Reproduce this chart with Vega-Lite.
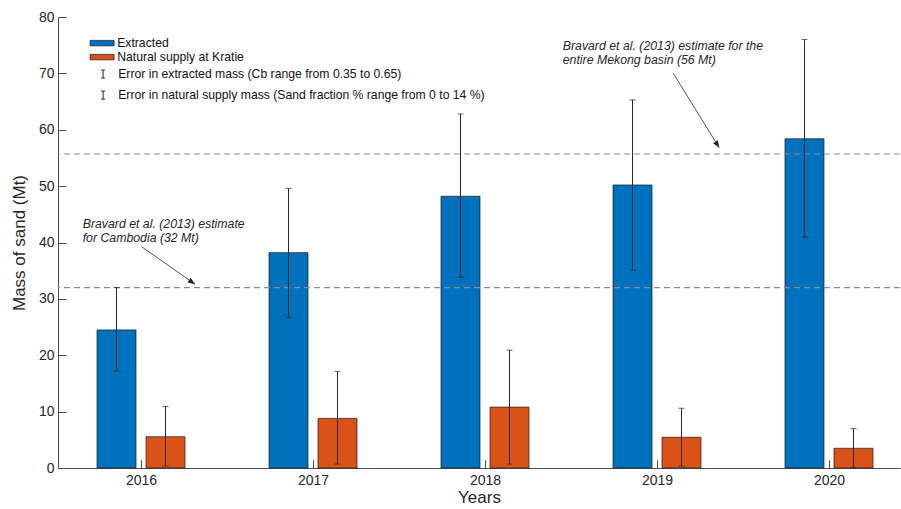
{
  "$schema": "https://vega.github.io/schema/vega-lite/v6.json",
  "width": 842,
  "height": 451,
  "autosize": "none",
  "padding": {"left": 58, "top": 17, "right": 1, "bottom": 41},
  "background": "white",
  "config": {
    "font": "Liberation Sans",
    "view": {"stroke": null},
    "scale": {"continuousPadding": 0},
    "axis": {
      "grid": false,
      "domainColor": "#4d4d4d",
      "tickColor": "#4d4d4d",
      "labelColor": "#262626",
      "titleColor": "#262626",
      "labelFontSize": 14,
      "titleFontSize": 17,
      "titleFontWeight": "normal",
      "tickSize": -8
    },
    "legend": {"labelFontSize": 12.2, "labelColor": "#111111", "labelLimit": 600, "padding": 0}
  },
  "datasets": {
    "mass": [
      {"year": 2016, "series": "Extracted", "error": "Error in extracted mass (Cb range from 0.35 to 0.65)", "mass": 24.5, "lo": 17.2, "hi": 32.0},
      {"year": 2017, "series": "Extracted", "error": "Error in extracted mass (Cb range from 0.35 to 0.65)", "mass": 38.2, "lo": 26.7, "hi": 49.6},
      {"year": 2018, "series": "Extracted", "error": "Error in extracted mass (Cb range from 0.35 to 0.65)", "mass": 48.2, "lo": 33.8, "hi": 62.8},
      {"year": 2019, "series": "Extracted", "error": "Error in extracted mass (Cb range from 0.35 to 0.65)", "mass": 50.2, "lo": 35.1, "hi": 65.3},
      {"year": 2020, "series": "Extracted", "error": "Error in extracted mass (Cb range from 0.35 to 0.65)", "mass": 58.4, "lo": 40.9, "hi": 76.0},
      {"year": 2016, "series": "Natural supply at Kratie", "error": "Error in natural supply mass (Sand fraction % range from 0 to 14 %)", "mass": 5.55, "lo": 0.35, "hi": 10.9},
      {"year": 2017, "series": "Natural supply at Kratie", "error": "Error in natural supply mass (Sand fraction % range from 0 to 14 %)", "mass": 8.8, "lo": 0.7, "hi": 17.1},
      {"year": 2018, "series": "Natural supply at Kratie", "error": "Error in natural supply mass (Sand fraction % range from 0 to 14 %)", "mass": 10.8, "lo": 0.7, "hi": 20.9},
      {"year": 2019, "series": "Natural supply at Kratie", "error": "Error in natural supply mass (Sand fraction % range from 0 to 14 %)", "mass": 5.45, "lo": 0.35, "hi": 10.6},
      {"year": 2020, "series": "Natural supply at Kratie", "error": "Error in natural supply mass (Sand fraction % range from 0 to 14 %)", "mass": 3.5, "lo": 0.1, "hi": 7.0}
    ],
    "estimates": [
      {"region": "Cambodia", "estimate": 32, "note": ["Bravard et al. (2013) estimate", "for Cambodia (32 Mt)"], "noteYear": 2015.661, "noteMass": 44.35, "fromYear": 2016.004, "fromMass": 39.25, "toYear": 2016.314, "toMass": 32.6},
      {"region": "Mekong basin", "estimate": 55.7, "note": ["Bravard et al. (2013) estimate for the", "entire Mekong basin (56 Mt)"], "noteYear": 2018.452, "noteMass": 75.95, "fromYear": 2019.095, "fromMass": 70.0, "toYear": 2019.362, "toMass": 56.8}
    ]
  },
  "encoding": {
    "x": {
      "field": "year", "type": "quantitative",
      "scale": {"domain": [2015.5174, 2020.4128], "nice": false, "zero": false, "padding": 0},
      "axis": {"values": [2016, 2017, 2018, 2019, 2020], "format": "d", "title": "Years", "labelPadding": 13, "titlePadding": 2}
    },
    "y": {
      "field": "mass", "type": "quantitative",
      "scale": {"domain": [0, 80], "nice": false, "padding": 0},
      "axis": {"values": [0, 10, 20, 30, 40, 50, 60, 70, 80], "title": "Mass of sand (Mt)", "labelPadding": 12, "titlePadding": 10}
    }
  },
  "layer": [
    {
      "data": {"name": "mass"},
      "transform": [{"filter": "datum.series == 'Extracted'"}],
      "mark": {"type": "bar", "orient": "vertical", "width": 39, "xOffset": -24.5, "stroke": "#1a1a1a", "strokeWidth": 0.7},
      "encoding": {
        "fill": {
          "field": "series", "type": "nominal",
          "scale": {"domain": ["Extracted", "Natural supply at Kratie"], "range": ["#0072BD", "#D95319"]},
          "legend": {
            "title": null, "orient": "none", "legendX": 38, "legendY": 20,
            "symbolType": "M-2.4,-0.55H2.4V0.55H-2.4Z", "symbolSize": 100,
            "symbolStrokeColor": "#1a1a1a", "symbolStrokeWidth": 0.7,
            "labelOffset": 9, "rowPadding": 1
          }
        }
      }
    },
    {
      "data": {"name": "mass"},
      "transform": [{"filter": "datum.series != 'Extracted'"}],
      "mark": {"type": "bar", "orient": "vertical", "width": 39, "xOffset": 24.5, "stroke": "#1a1a1a", "strokeWidth": 0.7},
      "encoding": {
        "fill": {"field": "series", "type": "nominal"}
      }
    },
    {
      "data": {"name": "estimates"},
      "mark": {"type": "rule", "strokeDash": [6, 4], "color": "#8c8c8c", "strokeWidth": 1.2},
      "encoding": {
        "x": null,
        "y": {"field": "estimate", "type": "quantitative"}
      }
    },
    {
      "data": {"name": "mass"},
      "transform": [{"filter": "datum.series == 'Extracted'"}],
      "mark": {"type": "rule", "xOffset": -24.5, "strokeWidth": 1},
      "encoding": {
        "y": {"field": "lo", "type": "quantitative"},
        "y2": {"field": "hi"},
        "stroke": {
          "field": "error", "type": "nominal",
          "scale": {"range": ["#262626", "#262626"]},
          "legend": {
            "title": null, "orient": "none", "legendX": 39, "legendY": 51,
            "symbolType": "M0,-1V1M-0.5,-1H0.5M-0.5,1H0.5", "symbolSize": 64,
            "symbolStrokeWidth": 1, "symbolFillColor": "transparent",
            "labelOffset": 9, "rowPadding": 8
          }
        }
      }
    },
    {
      "data": {"name": "mass"},
      "transform": [{"filter": "datum.series != 'Extracted'"}],
      "mark": {"type": "rule", "xOffset": 24.5, "strokeWidth": 1},
      "encoding": {
        "y": {"field": "lo", "type": "quantitative"},
        "y2": {"field": "hi"},
        "stroke": {"field": "error", "type": "nominal"}
      }
    },
    {
      "data": {"name": "mass"},
      "transform": [
        {"filter": "datum.series == 'Extracted'"},
        {"fold": ["lo", "hi"], "as": ["end", "endMass"]}
      ],
      "mark": {"type": "tick", "orient": "horizontal", "size": 6, "thickness": 1, "color": "#262626", "xOffset": -24.5},
      "encoding": {"y": {"field": "endMass", "type": "quantitative"}}
    },
    {
      "data": {"name": "mass"},
      "transform": [
        {"filter": "datum.series != 'Extracted'"},
        {"fold": ["lo", "hi"], "as": ["end", "endMass"]}
      ],
      "mark": {"type": "tick", "orient": "horizontal", "size": 6, "thickness": 1, "color": "#262626", "xOffset": 24.5},
      "encoding": {"y": {"field": "endMass", "type": "quantitative"}}
    },
    {
      "data": {"name": "estimates"},
      "mark": {"type": "text", "align": "left", "baseline": "top", "fontStyle": "italic", "fontSize": 12.3, "lineHeight": 14, "color": "#262626"},
      "encoding": {
        "x": {"field": "noteYear", "type": "quantitative"},
        "y": {"field": "noteMass", "type": "quantitative"},
        "text": {"field": "note"}
      }
    },
    {
      "data": {"name": "estimates"},
      "mark": {"type": "rule", "color": "#262626", "strokeWidth": 0.8},
      "encoding": {
        "x": {"field": "fromYear", "type": "quantitative"},
        "y": {"field": "fromMass", "type": "quantitative"},
        "x2": {"field": "toYear"},
        "y2": {"field": "toMass"}
      }
    },
    {
      "data": {"name": "estimates"},
      "transform": [{"filter": "datum.region == 'Cambodia'"}],
      "mark": {"type": "point", "shape": "M0,0L0.7,1.8L-0.7,1.8Z", "size": 64, "filled": true, "color": "#262626", "opacity": 1, "angle": 125},
      "encoding": {
        "x": {"field": "toYear", "type": "quantitative"},
        "y": {"field": "toMass", "type": "quantitative"}
      }
    },
    {
      "data": {"name": "estimates"},
      "transform": [{"filter": "datum.region == 'Mekong basin'"}],
      "mark": {"type": "point", "shape": "M0,0L0.7,1.8L-0.7,1.8Z", "size": 64, "filled": true, "color": "#262626", "opacity": 1, "angle": 148},
      "encoding": {
        "x": {"field": "toYear", "type": "quantitative"},
        "y": {"field": "toMass", "type": "quantitative"}
      }
    }
  ]
}
